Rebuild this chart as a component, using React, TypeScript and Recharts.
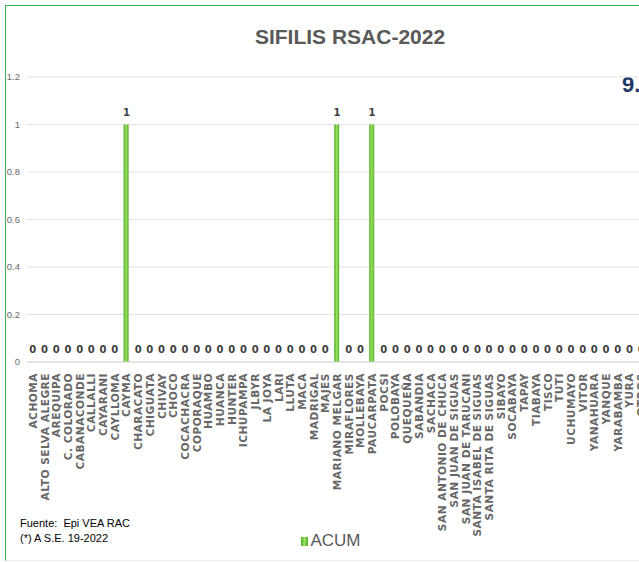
import { Bar, CartesianGrid, ComposedChart, LabelList, Legend, Line, XAxis, YAxis } from 'recharts'

const districts = [
  'ACHOMA', 'ALTO SELVA ALEGRE', 'AREQUIPA', 'C. COLORADO', 'CABANACONDE', 'CALLALLI', 'CAYARANI',
  'CAYLLOMA', 'CAYMA', 'CHARACATO', 'CHIGUATA', 'CHIVAY', 'CHOCO', 'COCACHACRA', 'COPORAQUE',
  'HUAMBO', 'HUANCA', 'HUNTER', 'ICHUPAMPA', 'JLBYR', 'LA JOYA', 'LARI', 'LLUTA', 'MACA',
  'MADRIGAL', 'MAJES', 'MARIANO MELGAR', 'MIRAFLORES', 'MOLLEBAYA', 'PAUCARPATA', 'POCSI',
  'POLOBAYA', 'QUEQUEÑA', 'SABANDIA', 'SACHACA', 'SAN ANTONIO DE CHUCA', 'SAN JUAN DE SIGUAS',
  'SAN JUAN DE TARUCANI', 'SANTA ISABEL DE SIGUAS', 'SANTA RITA DE SIGUAS', 'SIBAYO', 'SOCABAYA',
  'TAPAY', 'TIABAYA', 'TISCO', 'TUTI', 'UCHUMAYO', 'VITOR', 'YANAHUARA', 'YANQUE', 'YARABAMBA',
  'YURA', 'OTROS',
]

const acum = [
  0, 0, 0, 0, 0, 0, 0, 0, 1, 0, 0, 0, 0, 0, 0, 0, 0, 0, 0, 0, 0, 0, 0, 0, 0, 0, 1, 0, 0, 1, 0,
  0, 0, 0, 0, 0, 0, 0, 0, 0, 0, 0, 0, 0, 0, 0, 0, 0, 0, 0, 0, 0, 0,
]

const yTicks = [0, 0.2, 0.4, 0.6, 0.8, 1, 1.2]

const data = districts.map((name, i) => ({ name, ACUM: acum[i] }))

const narrow = '"Liberation Sans Narrow", "Liberation Sans", Arial, sans-serif'

function DistrictTick({ x, y, payload }: any) {
  return (
    <text
      x={x}
      y={y}
      transform={`rotate(-90, ${x}, ${y})`}
      textAnchor="end"
      dominantBaseline="central"
      fontFamily="DejaVu Sans"
      fontWeight="bold"
      fontSize={10.6}
      letterSpacing={0.5}
      fill="#666666"
    >
      {payload.value}
    </text>
  )
}

function LegendBox() {
  return (
    <div style={{ width: 60, height: 20, display: 'flex', alignItems: 'center', justifyContent: 'center' }}>
      <span style={{ width: 7, height: 9, background: 'linear-gradient(90deg,#4fae1e,#9be264,#4fae1e)', marginRight: 2 }} />
      <span style={{ fontFamily: narrow, fontSize: 17, color: '#595959' }}>ACUM</span>
    </div>
  )
}

export default function App() {
  return (
    <div
      style={{
        position: 'absolute',
        left: 0,
        top: 0,
        width: 639,
        height: 562,
        overflow: 'hidden',
        background: '#fff',
      }}
    >
      <div
        style={{
          position: 'absolute',
          left: 5,
          top: 5,
          width: 700,
          height: 554,
          borderLeft: '1.5px solid #33b35a',
          borderTop: '1.5px solid #33b35a',
          borderBottom: '1px solid #ececec',
        }}
      />
      <div
        style={{
          position: 'absolute',
          left: 350,
          top: 25,
          transform: 'translateX(-50%)',
          fontFamily: narrow,
          fontWeight: 'bold',
          fontSize: 21,
          color: '#595959',
          whiteSpace: 'nowrap',
        }}
      >
        SIFILIS RSAC-2022
      </div>
      <div
        style={{
          position: 'absolute',
          left: 622,
          top: 72,
          fontFamily: '"Liberation Sans", sans-serif',
          fontWeight: 'bold',
          fontSize: 22,
          color: '#1f3864',
        }}
      >
        9.
      </div>
      <div
        style={{
          position: 'absolute',
          left: 20,
          top: 516,
          fontFamily: narrow,
          fontSize: 11,
          lineHeight: '15px',
          color: '#000',
        }}
      >
        <div>Fuente:&nbsp; Epi VEA RAC</div>
        <div>(*) A S.E. 19-2022</div>
      </div>
      <div style={{ position: 'absolute', left: 0, top: 0 }}>
        <ComposedChart width={656} height={562} data={data} margin={{ top: 77, right: 9, left: 0, bottom: 11 }}>
          <defs>
            <linearGradient id="acumFill" x1="0" y1="0" x2="1" y2="0">
              <stop offset="0%" stopColor="#4fae1e" />
              <stop offset="50%" stopColor="#9be264" />
              <stop offset="100%" stopColor="#4fae1e" />
            </linearGradient>
          </defs>
          <CartesianGrid vertical={false} stroke="#e3e3e3" />
          <XAxis
            dataKey="name"
            interval={0}
            height={169}
            tickLine={false}
            tickSize={0}
            tickMargin={11}
            axisLine={{ stroke: '#d9d9d9' }}
            tick={<DistrictTick />}
          />
          <YAxis
            width={27}
            domain={[0, 1.2]}
            ticks={yTicks}
            tickLine={false}
            tickSize={0}
            tickMargin={7}
            axisLine={false}
            tick={{ fontSize: 9.5, fill: '#6b6b6b', fontFamily: 'Liberation Sans' }}
          />
          <Legend
            verticalAlign="bottom"
            align="center"
            height={20}
            wrapperStyle={{ left: 301, width: 60 }}
            content={<LegendBox />}
          />
          <Bar dataKey="ACUM" fill="url(#acumFill)" barSize={5} isAnimationActive={false} />
          <Line
            dataKey="ACUM"
            stroke="none"
            dot={false}
            activeDot={false}
            legendType="none"
            isAnimationActive={false}
          >
            <LabelList
              dataKey="ACUM"
              position="top"
              offset={9}
              fontFamily="DejaVu Sans"
              fontWeight="bold"
              fontSize={10}
              fill="#404040"
            />
          </Line>
        </ComposedChart>
      </div>
    </div>
  )
}
